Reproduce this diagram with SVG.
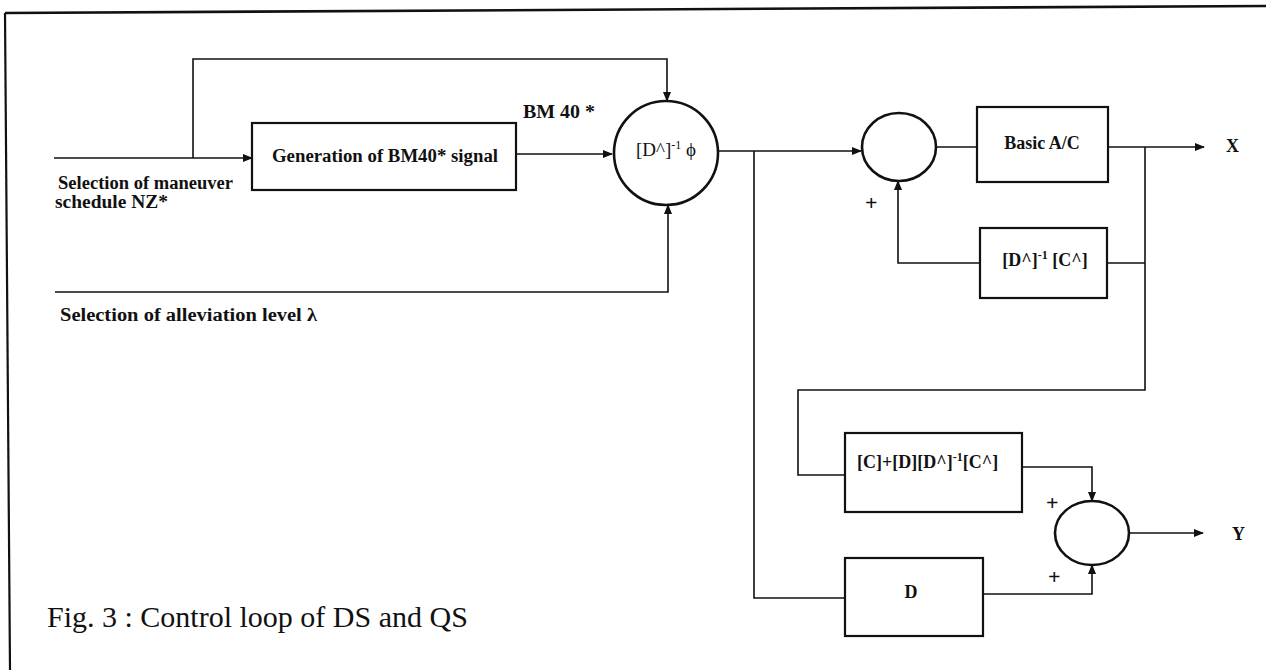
<svg xmlns="http://www.w3.org/2000/svg" width="1266" height="670" viewBox="0 0 1266 670">
<style>
.b{fill:none;stroke:#111;stroke-width:2.2}
.c{fill:none;stroke:#111;stroke-width:2.6}
.w{fill:none;stroke:#111;stroke-width:1.6}
.t{font-family:"Liberation Serif",serif;font-weight:bold;font-size:18px;fill:#111}
.p{font-family:"Liberation Serif",serif;font-weight:bold;font-size:22px;fill:#111}
.r{font-family:"Liberation Serif",serif;font-size:19px;fill:#111}
.cap{font-family:"Liberation Serif",serif;font-size:30px;fill:#111}
</style>
<defs>
<marker id="ah" markerWidth="10" markerHeight="8" refX="9" refY="4" orient="auto" markerUnits="userSpaceOnUse">
<path d="M0,0 L10,4 L0,8 z" fill="#111"/>
</marker>
</defs>
<rect width="1266" height="670" fill="#fff"/>
<g id="border">
<path d="M5,13 L1266,6" class="c"/>
<path d="M5,13 L10,670" class="b"/>
</g>
<g id="connectors">
<path d="M54,158 L252,158" class="w" marker-end="url(#ah)"/>
<path d="M193,158 L193,59 L667,59 L667,101" class="w" marker-end="url(#ah)"/>
<path d="M516,154 L612,154" class="w" marker-end="url(#ah)"/>
<path d="M55,292 L668,292 L668,205" class="w" marker-end="url(#ah)"/>
<path d="M718,151 L861,151" class="w" marker-end="url(#ah)"/>
<path d="M754,151 L754,598 L845,598" class="w"/>
<path d="M936,147 L977,147" class="w"/>
<path d="M1108,147 L1204,147" class="w" marker-end="url(#ah)"/>
<path d="M1145,147 L1145,390 L798,390 L798,475 L845,475" class="w"/>
<path d="M1107,263 L1145,263" class="w"/>
<path d="M980,263 L898,263 L898,181" class="w" marker-end="url(#ah)"/>
<path d="M1022,467 L1092,467 L1092,501" class="w" marker-end="url(#ah)"/>
<path d="M983,594 L1092,594 L1092,565" class="w" marker-end="url(#ah)"/>
<path d="M1129,533 L1203,533" class="w" marker-end="url(#ah)"/>
</g>
<g id="labels">
<text x="58" y="189" class="t" textLength="175" lengthAdjust="spacingAndGlyphs">Selection of maneuver</text>
<text x="55" y="208" class="t" textLength="113" lengthAdjust="spacingAndGlyphs">schedule NZ*</text>
<text x="60" y="321" class="t" textLength="257" lengthAdjust="spacingAndGlyphs">Selection of alleviation level λ</text>
<text x="523" y="118" class="t" textLength="72" lengthAdjust="spacingAndGlyphs">BM 40 *</text>
<text x="1226" y="152" class="t">X</text>
<text x="1232" y="540" class="t">Y</text>
<text x="865" y="210" class="p">+</text>
<text x="1046" y="510" class="p">+</text>
<text x="1048" y="584" class="p">+</text>
<text x="47" y="627" class="cap">Fig. 3 : Control loop of DS and QS</text>
</g>
<g id="gen">
<rect x="252" y="123" width="264" height="67" class="b"/>
<text x="272" y="162" class="t" textLength="226" lengthAdjust="spacingAndGlyphs">Generation of BM40* signal</text>
</g>
<g id="inv">
<circle cx="666" cy="153" r="52" class="c"/>
<text x="666" y="156" class="r" text-anchor="middle">[D^]<tspan font-size="12" dy="-7">-1</tspan><tspan dy="7"> ϕ</tspan></text>
</g>
<g id="sum1">
<ellipse cx="899" cy="147" rx="37" ry="34" class="c"/>
</g>
<g id="basic">
<rect x="977" y="107" width="131" height="75" class="b"/>
<text x="1042" y="149" class="t" text-anchor="middle">Basic A/C</text>
</g>
<g id="fb">
<rect x="980" y="228" width="127" height="70" class="b"/>
<text x="1045" y="266" class="t" text-anchor="middle">[D^]<tspan font-size="12" dy="-7">-1</tspan><tspan dy="7"> [C^]</tspan></text>
</g>
<g id="cd">
<rect x="845" y="433" width="177" height="79" class="b"/>
<text x="857" y="468" class="t">[C]+[D][D^]<tspan font-size="12" dy="-7">-1</tspan><tspan dy="7">[C^]</tspan></text>
</g>
<g id="sum2">
<ellipse cx="1092" cy="533" rx="37" ry="32" class="c"/>
</g>
<g id="dbox">
<rect x="845" y="558" width="138" height="78" class="b"/>
<text x="911" y="598" class="t" text-anchor="middle">D</text>
</g>
</svg>
